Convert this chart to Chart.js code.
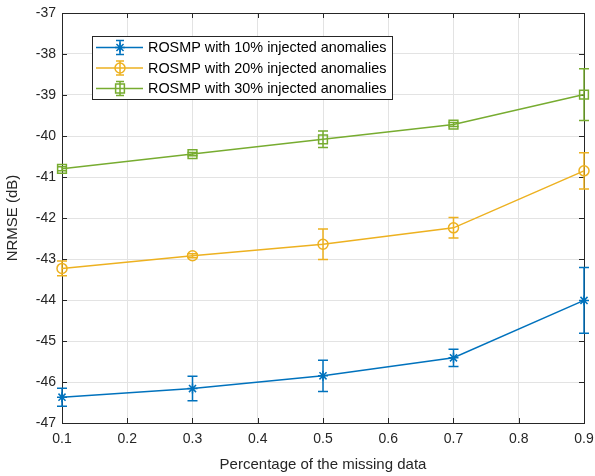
<!DOCTYPE html>
<html><head><meta charset="utf-8">
<script src="https://cdn.jsdelivr.net/npm/chart.js@4.4.1/dist/chart.umd.min.js"></script>
<style>html,body{margin:0;padding:0;background:#fff}#wrap{width:595px;height:476px}</style>
</head><body><div id="wrap"><canvas id="c" width="595" height="476"></canvas></div>
<script>
const xValues = [0.1, 0.3, 0.5, 0.7, 0.9];
const xTicks = [0.1, 0.2, 0.3, 0.4, 0.5, 0.6, 0.7, 0.8, 0.9];
const yTicks = [-47, -46, -45, -44, -43, -42, -41, -40, -39, -38, -37];
const seriesLabels = ['ROSMP with 10% injected anomalies', 'ROSMP with 20% injected anomalies', 'ROSMP with 30% injected anomalies'];
const nrmse10 = [-46.37, -46.16, -45.85, -45.41, -44.01];
const err10 = [0.22, 0.30, 0.38, 0.21, 0.80];
const nrmse20 = [-43.23, -42.92, -42.64, -42.24, -40.85];
const err20 = [0.18, 0.05, 0.37, 0.25, 0.44];
const nrmse30 = [-40.80, -40.44, -40.08, -39.72, -38.99];
const err30 = [0.05, 0.04, 0.20, 0.05, 0.63];

const colors = ['#0072BD', '#EDB120', '#77AC30'];
const styles = ['star', 'circle', 'rect'];
const radii = [5, 5, 6.2];
const AX = '#262626';
const FONT = '"Liberation Sans", Arial, Helvetica, sans-serif';

const allY = [nrmse10, nrmse20, nrmse30];
const allE = [err10, err20, err30];

const datasets = allY.map((ys, i) => ({
  label: seriesLabels[i],
  data: xValues.map((x, j) => ({x: x, y: ys[j]})),
  errors: allE[i],
  borderColor: colors[i],
  backgroundColor: 'rgba(0,0,0,0)',
  borderWidth: 1.5,
  pointStyle: styles[i],
  pointRadius: radii[i],
  pointHoverRadius: radii[i],
  pointBorderColor: colors[i],
  pointBackgroundColor: 'rgba(0,0,0,0)',
  pointBorderWidth: 1.5,
  tension: 0,
  clip: false
}));

function drawErrBar(ctx, x, yt, yb, color, cap) {
  ctx.save();
  ctx.strokeStyle = color; ctx.lineWidth = 1.5;
  ctx.beginPath();
  ctx.moveTo(x, yt); ctx.lineTo(x, yb);
  ctx.moveTo(x - cap, yt); ctx.lineTo(x + cap, yt);
  ctx.moveTo(x - cap, yb); ctx.lineTo(x + cap, yb);
  ctx.stroke();
  ctx.restore();
}

const matlabPlugin = {
  id: 'matlab',
  beforeDatasetsDraw(chart) {
    const ctx = chart.ctx, a = chart.chartArea, xs = chart.scales.x, ys = chart.scales.y;
    // axes box and inward ticks
    ctx.save();
    ctx.strokeStyle = AX; ctx.lineWidth = 1;
    ctx.beginPath();
    xTicks.forEach(v => {
      const px = Math.round(xs.getPixelForValue(v)) + 0.5;
      ctx.moveTo(px, a.bottom); ctx.lineTo(px, a.bottom - 5);
      ctx.moveTo(px, a.top); ctx.lineTo(px, a.top + 5);
    });
    yTicks.forEach(v => {
      const py = Math.round(ys.getPixelForValue(v)) + 0.5;
      ctx.moveTo(a.left, py); ctx.lineTo(a.left + 5, py);
      ctx.moveTo(a.right, py); ctx.lineTo(a.right - 5, py);
    });
    ctx.stroke();
    ctx.strokeRect(Math.round(a.left) + 0.5, Math.round(a.top) + 0.5, Math.round(a.right - a.left), Math.round(a.bottom - a.top));
    ctx.restore();
    // error bars
    chart.data.datasets.forEach((ds) => {
      ds.data.forEach((p, j) => {
        const e = ds.errors[j];
        const px = xs.getPixelForValue(p.x);
        drawErrBar(ctx, px, ys.getPixelForValue(p.y + e), ys.getPixelForValue(p.y - e), ds.borderColor, 5);
      });
    });
  },
  afterDraw(chart) {
    const ctx = chart.ctx;
    ctx.save();
    ctx.strokeStyle = AX; ctx.lineWidth = 1;
    const lx = 92, ly = 36, lw = 300, lh = 63;
    ctx.fillStyle = '#fff';
    ctx.fillRect(lx, ly, lw, lh);
    ctx.strokeRect(lx + 0.5, ly + 0.5, lw, lh);
    ctx.font = '14.4px ' + FONT;
    ctx.textBaseline = 'middle';
    ctx.textAlign = 'left';
    chart.data.datasets.forEach((ds, i) => {
      const cy = 47.5 + i * 20.5;
      ctx.strokeStyle = ds.borderColor; ctx.lineWidth = 1.5;
      ctx.beginPath(); ctx.moveTo(96, cy); ctx.lineTo(143, cy); ctx.stroke();
      drawErrBar(ctx, 120, cy - 7, cy + 7, ds.borderColor, 4);
      ctx.save();
      ctx.strokeStyle = ds.borderColor; ctx.fillStyle = 'rgba(0,0,0,0)'; ctx.lineWidth = 1.5;
      Chart.helpers.drawPoint(ctx, {pointStyle: ds.pointStyle, radius: ds.pointRadius, borderWidth: 1.5}, 120, cy);
      ctx.restore();
      ctx.fillStyle = '#000';
      ctx.fillText(ds.label, 148, cy + 1);
    });
    ctx.restore();
  }
};

new Chart(document.getElementById('c'), {
  type: 'line',
  data: { datasets: datasets },
  plugins: [matlabPlugin],
  options: {
    responsive: false,
    animation: false,
    devicePixelRatio: 1,
    layout: { padding: { left: 0, top: 13, right: 11, bottom: 0 } },
    plugins: { legend: { display: false }, tooltip: { enabled: false } },
    scales: {
      x: {
        type: 'linear', min: 0.1, max: 0.9,
        afterBuildTicks: (s) => { s.ticks = xTicks.map(v => ({value: v})); },
        afterFit: (s) => { s.height = 53; s.paddingRight = 0; s.paddingLeft = 0; },
        ticks: { color: AX, font: { size: 14, family: FONT }, padding: 8, maxRotation: 0,
          callback: (v) => v.toFixed(1) },
        grid: { color: '#e3e3e3', drawTicks: false, lineWidth: 1 },
        border: { display: false },
        title: { display: true, text: 'Percentage of the missing data', color: AX,
          font: { size: 15, family: FONT }, padding: { top: 4, bottom: 2 } }
      },
      y: {
        type: 'linear', min: -47, max: -37,
        afterBuildTicks: (s) => { s.ticks = yTicks.map(v => ({value: v})); },
        afterFit: (s) => { s.width = 62; s.paddingTop = 0; s.paddingBottom = 0; },
        ticks: { color: AX, font: { size: 14, family: FONT }, padding: 6,
          callback: (v) => String(v) },
        grid: { color: '#e3e3e3', drawTicks: false, lineWidth: 1 },
        border: { display: false },
        title: { display: true, text: 'NRMSE (dB)', color: AX,
          font: { size: 15, family: FONT }, padding: { top: 4, bottom: 4 } }
      }
    }
  }
});
</script></body></html>
